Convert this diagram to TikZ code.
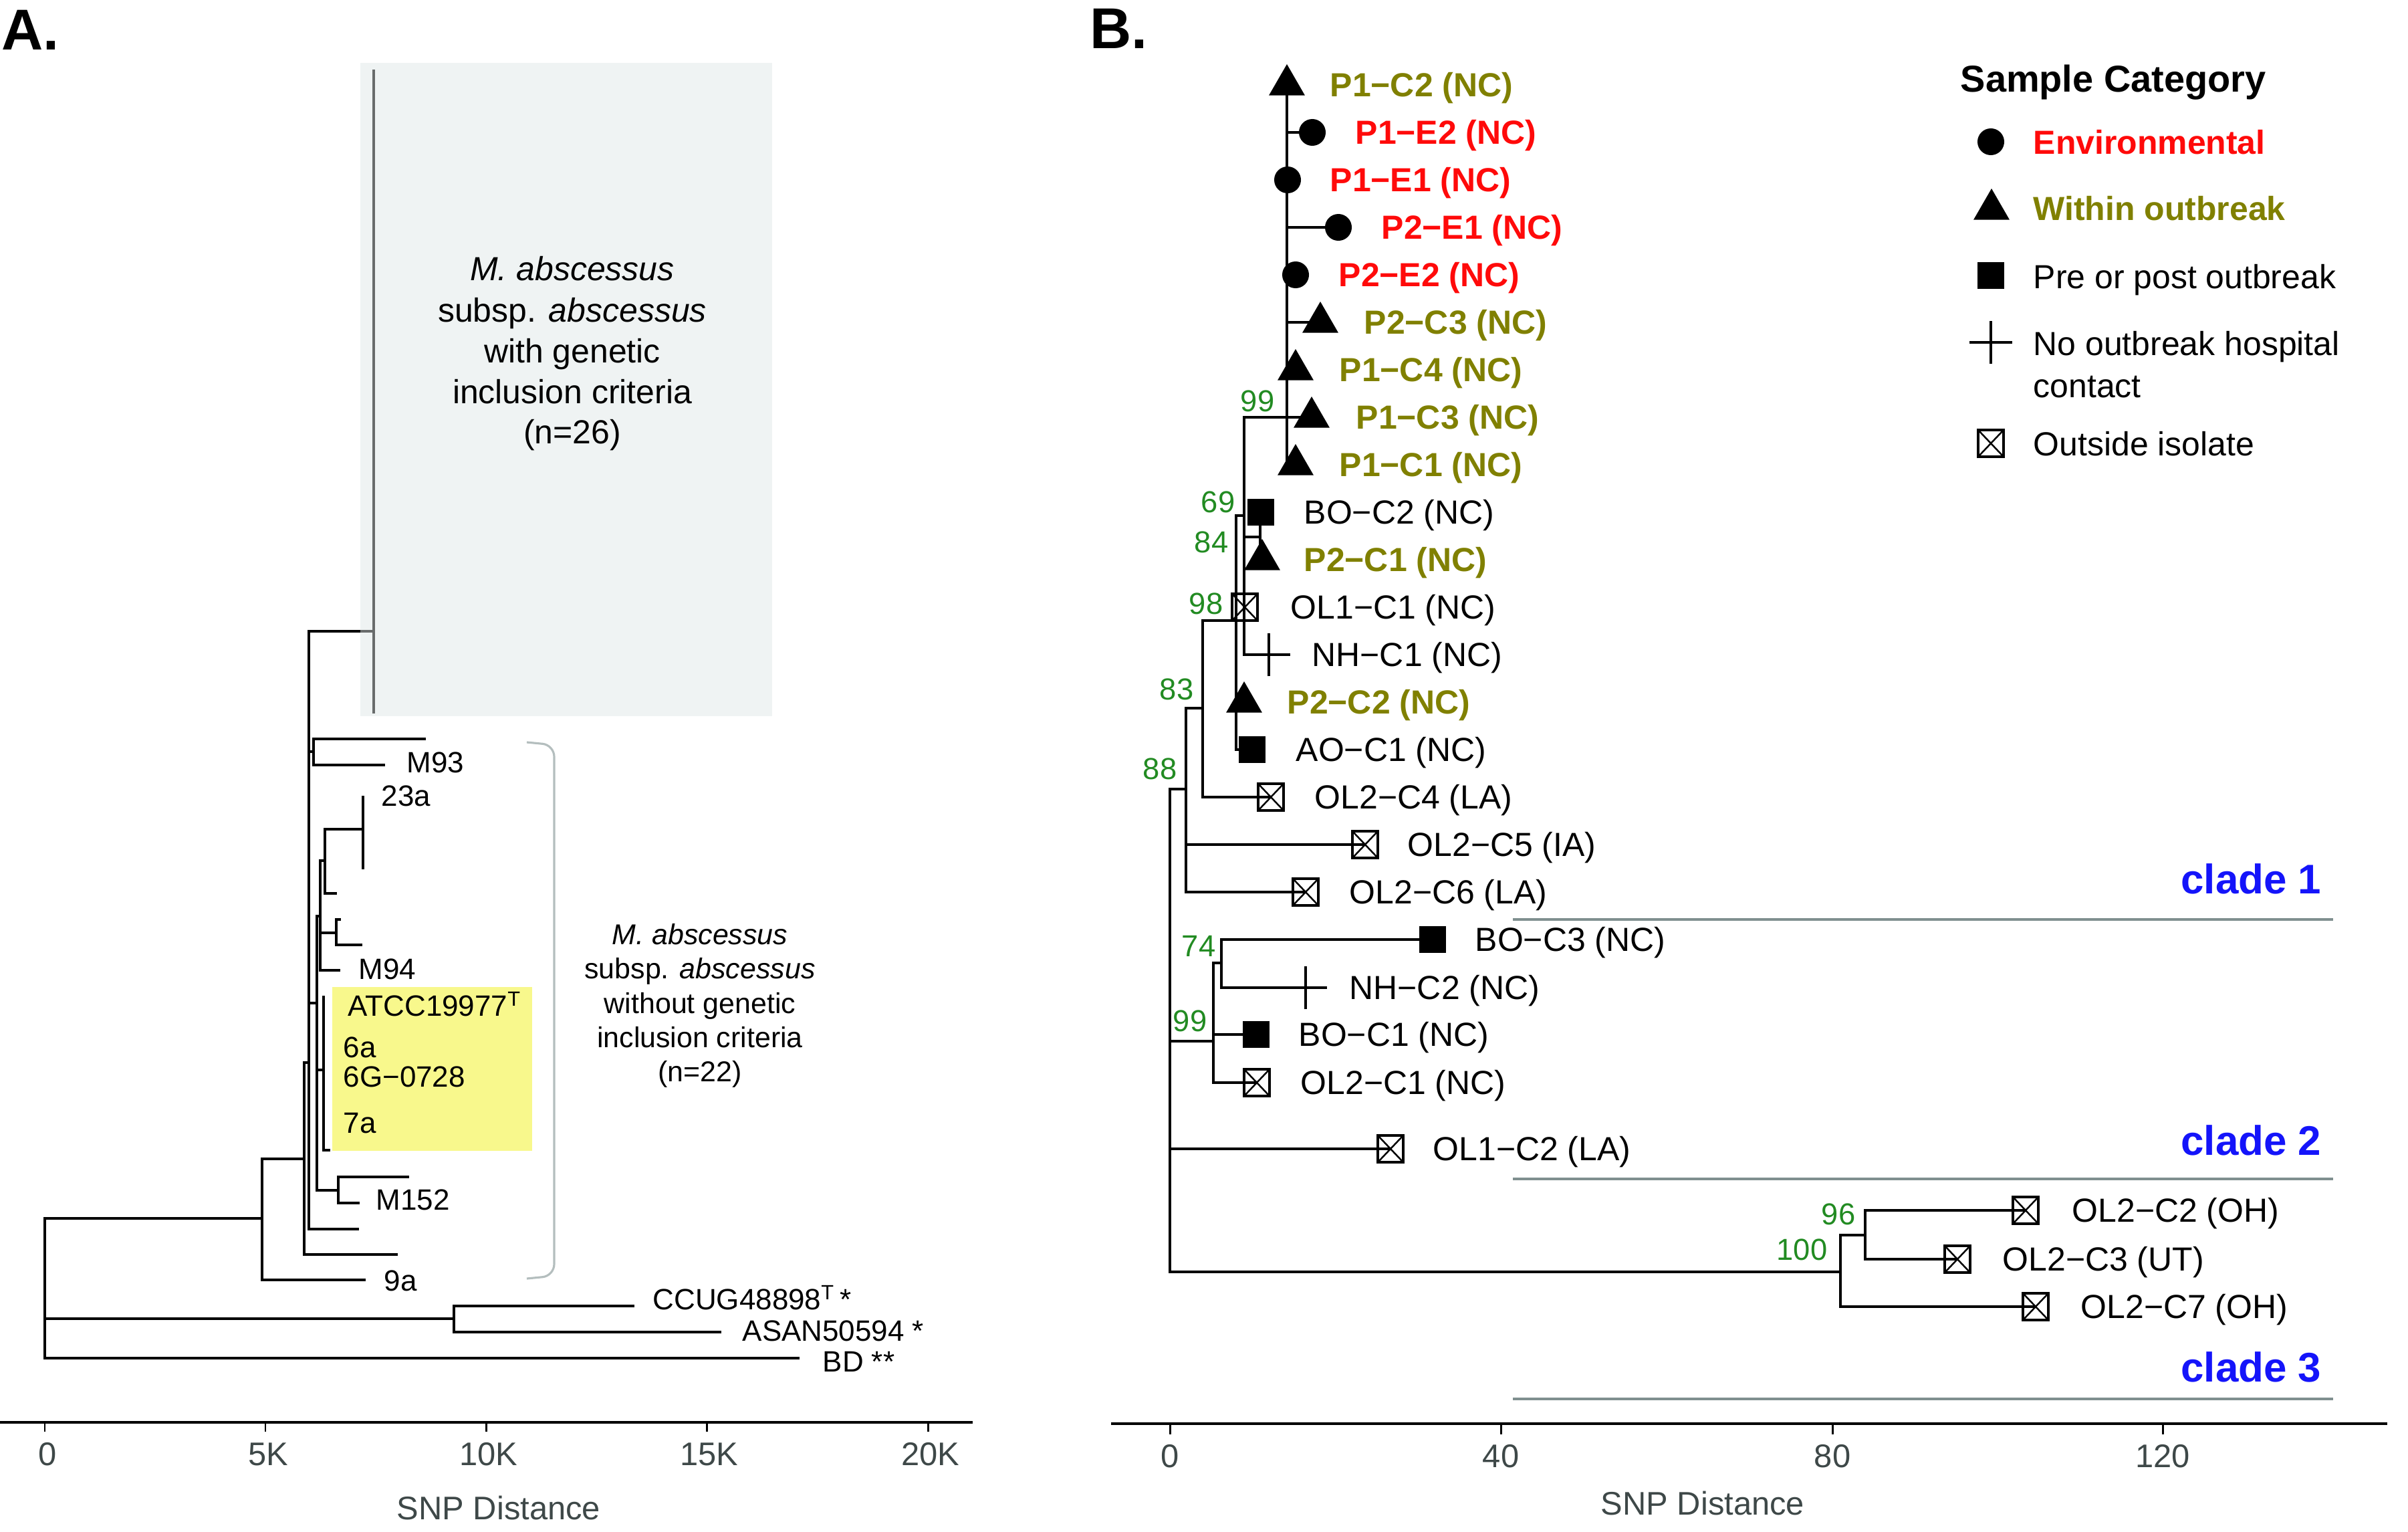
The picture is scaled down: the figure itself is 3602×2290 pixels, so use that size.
\documentclass[tikz,border=0pt]{standalone}
\usepackage{fontspec}
\setmainfont{Liberation Sans}
\usetikzlibrary{shapes.geometric,shapes.misc}
\definecolor{olv}{RGB}{128,128,0}
\definecolor{redc}{RGB}{255,10,10}
\definecolor{grn}{RGB}{34,139,34}
\definecolor{bluc}{RGB}{20,20,250}
\definecolor{boxg}{RGB}{239,243,243}
\definecolor{yel}{RGB}{248,248,140}
\definecolor{brk}{RGB}{180,190,190}
\definecolor{cladeg}{RGB}{127,143,143}
\definecolor{axg}{RGB}{62,72,72}
\definecolor{colg}{RGB}{105,108,108}
\tikzset{
  tl/.style={line width=1.05pt, line cap=rect},
  colline/.style={line width=1.3pt, colg},
  axisl/.style={line width=1.2pt},
  tickl/.style={line width=0.85pt},
  cladel/.style={line width=1.1pt, cladeg},
  brackl/.style={line width=0.9pt, brk, rounded corners=5pt},
  lab/.style={anchor=base west, inner sep=0pt, font=\fontsize{14.2pt}{17pt}\selectfont, yshift=-0.179cm},
  labb/.style={lab, font=\fontsize{14.2pt}{17pt}\selectfont\bfseries},
  labA/.style={anchor=base west, inner sep=0pt, font=\fontsize{12.5pt}{15pt}\selectfont, yshift=-0.157cm},
  boot/.style={anchor=base east, inner sep=0pt, text=grn, font=\fontsize{12.9pt}{15pt}\selectfont, yshift=-0.16cm},
  cladet/.style={anchor=base east, inner sep=0pt, text=bluc, font=\fontsize{17.6pt}{21pt}\selectfont\bfseries, yshift=-0.222cm},
  axl/.style={anchor=base, inner sep=0pt, text=axg, font=\fontsize{13.9pt}{17pt}\selectfont, yshift=-0.175cm},
  boxt/.style={anchor=base, inner sep=0pt, font=\fontsize{14.2pt}{17pt}\selectfont, yshift=-0.179cm},
  rtxt/.style={anchor=base, inner sep=0pt, font=\fontsize{12.2pt}{15pt}\selectfont, yshift=-0.154cm},
  panel/.style={anchor=base west, inner sep=0pt, font=\fontsize{24.5pt}{29pt}\selectfont\bfseries},
  legh/.style={anchor=base west, inner sep=0pt, font=\fontsize{15.9pt}{19pt}\selectfont\bfseries, yshift=-0.2cm},
  circ/.style={circle, fill=black, inner sep=0pt, minimum size=0.40cm},
  tri/.style={regular polygon, regular polygon sides=3, fill=black, inner sep=0pt, minimum size=0.62cm},
  sq/.style={rectangle, fill=black, inner sep=0pt, minimum size=0.40cm},
  xbox/.style={rectangle, draw=black, line width=1.05pt, inner sep=0pt, minimum width=0.38cm, minimum height=0.40cm,
    path picture={\draw[line width=0.7pt] (path picture bounding box.north west) -- (path picture bounding box.south east)
      (path picture bounding box.north east) -- (path picture bounding box.south west);}},
  crossm/.style={cross out, draw=black, line width=0.95pt, rotate=45, inner sep=0pt, minimum size=0.424cm},
}
\begin{document}
\begin{tikzpicture}[x=0.01cm,y=-0.01cm]
\useasboundingbox (0,0) rectangle (3602,2290);

% ================= Panel A =================
\node[panel] (pA) at (2,74) {A.};
\fill[boxg] (539,94) rectangle (1155,1071);
\fill[yel] (497,1476) rectangle (796,1721);

\coordinate (aR) at (67,1822);
\coordinate (aN1) at (392,1822);
\coordinate (aN2) at (679,1972);
\coordinate (tBD) at (1194,2031);
\coordinate (tCC) at (947,1953);
\coordinate (tAS) at (1077,1992);
\coordinate (t9a) at (545,1914);
\coordinate (aN3) at (455,1733);
\coordinate (tU1) at (593,1876);
\coordinate (aN4) at (462,1589);
\coordinate (tU2) at (535,1838);
\coordinate (aCb) at (539,944);
\coordinate (aC) at (559,944);
\coordinate (aCt) at (559,104);
\coordinate (aCd) at (559,1067);
\coordinate (aM93) at (469,1124);
\coordinate (tM93a) at (635,1105);
\coordinate (tM93) at (574,1144);
\coordinate (aN6) at (474,1500);
\coordinate (aN5) at (479,1370);
\coordinate (aN7) at (486,1287);
\coordinate (a23) at (543,1240);
\coordinate (t23t) at (543,1192);
\coordinate (t23b) at (543,1298);
\coordinate (tU3) at (502,1336);
\coordinate (aN8) at (503,1395);
\coordinate (tU4) at (508,1375);
\coordinate (tU5) at (540,1413);
\coordinate (tM94) at (507,1451);
\coordinate (aYel) at (484,1600);
\coordinate (tYelT) at (484,1491);
\coordinate (tYel) at (492,1720);
\coordinate (aM152) at (506,1780);
\coordinate (tM152a) at (610,1760);
\coordinate (tM152) at (536,1799);

\draw[tl] (aR) |- (aN1);
\draw[tl] (aR) |- (aN2);
\draw[tl] (aR) |- (tBD);
\draw[tl] (aN2) |- (tCC);
\draw[tl] (aN2) |- (tAS);
\draw[tl] (aN1) |- (t9a);
\draw[tl] (aN1) |- (aN3);
\draw[tl] (aN3) |- (tU1);
\draw[tl] (aN3) |- (aN4);
\draw[tl] (aN4) |- (tU2);
\draw[tl] (aN4) |- (aCb);
\draw[tl] (aN4) |- (aM93);
\draw[tl] (aN4) |- (aN6);
\draw[tl] (aM93) |- (tM93a);
\draw[tl] (aM93) |- (tM93);
\draw[tl] (aN6) |- (aN5);
\draw[tl] (aN6) |- (aYel);
\draw[tl] (aN6) |- (aM152);
\draw[tl] (aN5) |- (aN7);
\draw[tl] (aN5) |- (aN8);
\draw[tl] (aN5) |- (tM94);
\draw[tl] (aN7) |- (a23);
\draw[tl] (aN7) |- (tU3);
\draw[tl] (t23t) -- (t23b);
\draw[tl] (aN8) |- (tU4);
\draw[tl] (aN8) |- (tU5);
\draw[tl] (tYelT) |- (tYel);
\draw[tl] (aM152) |- (tM152a);
\draw[tl] (aM152) |- (tM152);
\draw[colline] (aCb) -- (aC);
\draw[colline] (aCt) -- (aCd);

\node[boxt] (bt1) at (856,402) {\itshape M. abscessus};
\node[boxt] (bt2) at (856,464) {subsp. \textit{abscessus}};
\node[boxt] (bt3) at (856,525) {with genetic};
\node[boxt] (bt4) at (856,586) {inclusion criteria};
\node[boxt] (bt5) at (856,646) {(n=26)};

\node[labA] (lM93) at (608,1140) {M93};
\node[labA] (l23a) at (570,1190) {23a};
\node[labA] (lM94) at (536,1449) {M94};
\node[labA] (lATCC) at (520,1504) {ATCC19977\textsuperscript{T}};
\node[labA] (l6a) at (513,1566) {6a};
\node[labA] (l6G) at (513,1610) {6G−0728};
\node[labA] (l7a) at (513,1679) {7a};
\node[labA] (lM152) at (562,1794) {M152};
\node[labA] (l9a) at (574,1915) {9a};
\node[labA] (lCC) at (976,1943) {CCUG48898\textsuperscript{T}\,*};
\node[labA] (lAS) at (1110,1990) {ASAN50594 *};
\node[labA] (lBD) at (1230,2036) {BD **};

\coordinate (bk1) at (788,1110);
\coordinate (bk2) at (829,1114);
\coordinate (bk3) at (829,1908);
\coordinate (bk4) at (788,1912);
\draw[brackl] (bk1) -- (bk2) -- (bk3) -- (bk4);

\node[rtxt] (rt1) at (1047,1397) {\itshape M. abscessus};
\node[rtxt] (rt2) at (1047,1448) {subsp. \textit{abscessus}};
\node[rtxt] (rt3) at (1047,1500) {without genetic};
\node[rtxt] (rt4) at (1047,1551) {inclusion criteria};
\node[rtxt] (rt5) at (1047,1602) {(n=22)};

\coordinate (axA0) at (0,2127);
\coordinate (axA1) at (1455,2127);
\draw[axisl] (axA0) -- (axA1);
\foreach \x/\t in {67/0,397/5K,727/10K,1057/15K,1388/20K}{
  \draw[tickl] (\x,2127) -- (\x,2141);
  \node[axl] (tkA\t) at (\x+4,2174) {\t};
}
\node[axl] (snpA) at (746,2255) {SNP Distance};

% ================= Panel B =================
\node[panel] (pB) at (1630,72) {B.};

% symbols
\node[tri]  (sP1C2) at (1925,127) {};
\node[circ] (sP1E2) at (1963,198) {};
\node[circ] (sP1E1) at (1926,269) {};
\node[circ] (sP2E1) at (2002,340) {};
\node[circ] (sP2E2) at (1938,411) {};
\node[tri]  (sP2C3) at (1975,482) {};
\node[tri]  (sP1C4) at (1938,553) {};
\node[tri]  (sP1C3) at (1962,624) {};
\node[tri]  (sP1C1) at (1938,695) {};
\node[sq]   (sBOC2) at (1886,766) {};
\node[tri]  (sP2C1) at (1888,837) {};
\node[xbox] (sOL1C1) at (1862,908) {};
\node[crossm] (sNHC1) at (1898,979) {};
\node[tri]  (sP2C2) at (1861,1050) {};
\node[sq]   (sAOC1) at (1873,1121) {};
\node[xbox] (sOL2C4) at (1901,1192) {};
\node[xbox] (sOL2C5) at (2042,1263) {};
\node[xbox] (sOL2C6) at (1953,1334) {};
\node[sq]   (sBOC3) at (2143,1405) {};
\node[crossm] (sNHC2) at (1953,1477) {};
\node[sq]   (sBOC1) at (1879,1547) {};
\node[xbox] (sOL2C1) at (1880,1619) {};
\node[xbox] (sOL1C2) at (2080,1718) {};
\node[xbox] (sOL2C2) at (3030,1810) {};
\node[xbox] (sOL2C3) at (2928,1883) {};
\node[xbox] (sOL2C7) at (3045,1954) {};

% internal nodes
\coordinate (nOut) at (1925,624);
\coordinate (nX) at (1861,771);
\coordinate (n84) at (1885,803);
\coordinate (n98) at (1849,928);
\coordinate (n83) at (1799,1059);
\coordinate (n88) at (1774,1180);
\coordinate (nR) at (1750,1180);
\coordinate (n99) at (1815,1557);
\coordinate (n74) at (1827,1440);
\coordinate (n100) at (2753,1902);
\coordinate (n96) at (2790,1847);

\draw[tl] (nOut |- sP1C2.center) -- (nOut |- sP1C1.center);
\foreach \s in {P1E2,P1E1,P2E1,P2E2,P2C3,P1C4,P1C1}{
  \draw[tl] (nOut |- s\s.center) -- (s\s.center);
}
\draw[tl] (nX) |- (sP1C3.center);
\draw[tl] (nX) |- (n84);
\draw[tl] (nX) |- (sNHC1.center);
\draw[tl] (nX) |- (sOL1C1.center);
\draw[tl] (n84 |- sBOC2.center) -- (n84 |- sP2C1.center);
\draw[tl] (n98) |- (nX);
\draw[tl] (n98) |- (sP2C2.center);
\draw[tl] (n98) |- (sAOC1.center);
\draw[tl] (n83) |- (n98);
\draw[tl] (n83) |- (sOL2C4.center);
\draw[tl] (n88) |- (n83);
\draw[tl] (n88) |- (sOL2C5.center);
\draw[tl] (n88) |- (sOL2C6.center);
\draw[tl] (nR) -- (n88);
\draw[tl] (nR) |- (n99);
\draw[tl] (nR) |- (sOL1C2.center);
\draw[tl] (nR) |- (n100);
\draw[tl] (n99) |- (n74);
\draw[tl] (n99) |- (sBOC1.center);
\draw[tl] (n99) |- (sOL2C1.center);
\draw[tl] (n74) |- (sBOC3.center);
\draw[tl] (n74) |- (sNHC2.center);
\draw[tl] (n100) |- (n96);
\draw[tl] (n100) |- (sOL2C7.center);
\draw[tl] (n96) |- (sOL2C2.center);
\draw[tl] (n96) |- (sOL2C3.center);

% labels
\node[labb, text=olv]  (lP1C2) at (1989,127) {P1−C2 (NC)};
\node[labb, text=redc] (lP1E2) at (2027,198) {P1−E2 (NC)};
\node[labb, text=redc] (lP1E1) at (1989,269) {P1−E1 (NC)};
\node[labb, text=redc] (lP2E1) at (2066,340) {P2−E1 (NC)};
\node[labb, text=redc] (lP2E2) at (2002,411) {P2−E2 (NC)};
\node[labb, text=olv]  (lP2C3) at (2040,482) {P2−C3 (NC)};
\node[labb, text=olv]  (lP1C4) at (2003,553) {P1−C4 (NC)};
\node[labb, text=olv]  (lP1C3) at (2028,624) {P1−C3 (NC)};
\node[labb, text=olv]  (lP1C1) at (2003,695) {P1−C1 (NC)};
\node[lab]  (lBOC2) at (1950,766) {BO−C2 (NC)};
\node[labb, text=olv]  (lP2C1) at (1950,837) {P2−C1 (NC)};
\node[lab]  (lOL1C1) at (1930,908) {OL1−C1 (NC)};
\node[lab]  (lNHC1) at (1962,979) {NH−C1 (NC)};
\node[labb, text=olv]  (lP2C2) at (1925,1050) {P2−C2 (NC)};
\node[lab]  (lAOC1) at (1938,1121) {AO−C1 (NC)};
\node[lab]  (lOL2C4) at (1966,1192) {OL2−C4 (LA)};
\node[lab]  (lOL2C5) at (2105,1263) {OL2−C5 (IA)};
\node[lab]  (lOL2C6) at (2018,1334) {OL2−C6 (LA)};
\node[lab]  (lBOC3) at (2206,1405) {BO−C3 (NC)};
\node[lab]  (lNHC2) at (2018,1477) {NH−C2 (NC)};
\node[lab]  (lBOC1) at (1942,1547) {BO−C1 (NC)};
\node[lab]  (lOL2C1) at (1945,1619) {OL2−C1 (NC)};
\node[lab]  (lOL1C2) at (2143,1718) {OL1−C2 (LA)};
\node[lab]  (lOL2C2) at (3099,1810) {OL2−C2 (OH)};
\node[lab]  (lOL2C3) at (2995,1883) {OL2−C3 (UT)};
\node[lab]  (lOL2C7) at (3112,1954) {OL2−C7 (OH)};

% bootstrap values
\node[boot] (b99a) at (1907,599) {99};
\node[boot] (b69) at (1848,750) {69};
\node[boot] (b84) at (1838,810) {84};
\node[boot] (b98) at (1830,902) {98};
\node[boot] (b83) at (1786,1030) {83};
\node[boot] (b88) at (1761,1149) {88};
\node[boot] (b74) at (1819,1414) {74};
\node[boot] (b99b) at (1806,1526) {99};
\node[boot] (b96) at (2776,1815) {96};
\node[boot] (b100) at (2734,1868) {100};

% clades
\node[cladet] (cl1) at (3473,1314) {clade 1};
\node[cladet] (cl2) at (3473,1705) {clade 2};
\node[cladet] (cl3) at (3473,2044) {clade 3};
\draw[cladel] (2263,1375) -- (3490,1375);
\draw[cladel] (2263,1763) -- (3490,1763);
\draw[cladel] (2263,2092) -- (3490,2092);

% axis B
\coordinate (axB0) at (1662,2129);
\coordinate (axB1) at (3571,2129);
\draw[axisl] (axB0) -- (axB1);
\foreach \x/\t in {1750/0,2245/40,2741/80,3235/120}{
  \draw[tickl] (\x,2129) -- (\x,2145);
  \node[axl] (tkB\t) at (\x,2177) {\t};
}
\node[axl] (snpB) at (2547,2248) {SNP Distance};

% legend
\node[legh] (legT) at (2932,117) {Sample Category};
\node[circ] (gC) at (2978,212) {};
\node[labb, text=redc] (gCl) at (3041,213) {Environmental};
\node[tri] (gT) at (2979,313) {};
\node[labb, text=olv] (gTl) at (3041,312) {Within outbreak};
\node[sq] (gS) at (2978,412) {};
\node[lab] (gSl) at (3041,414) {Pre or post outbreak};
\node[crossm] (gX) at (2978,512) {};
\node[lab] (gXl) at (3041,514) {No outbreak hospital};
\node[lab] (gXl2) at (3041,577) {contact};
\node[xbox] (gB) at (2978,663) {};
\node[lab] (gBl) at (3041,664) {Outside isolate};
\end{tikzpicture}
\end{document}
